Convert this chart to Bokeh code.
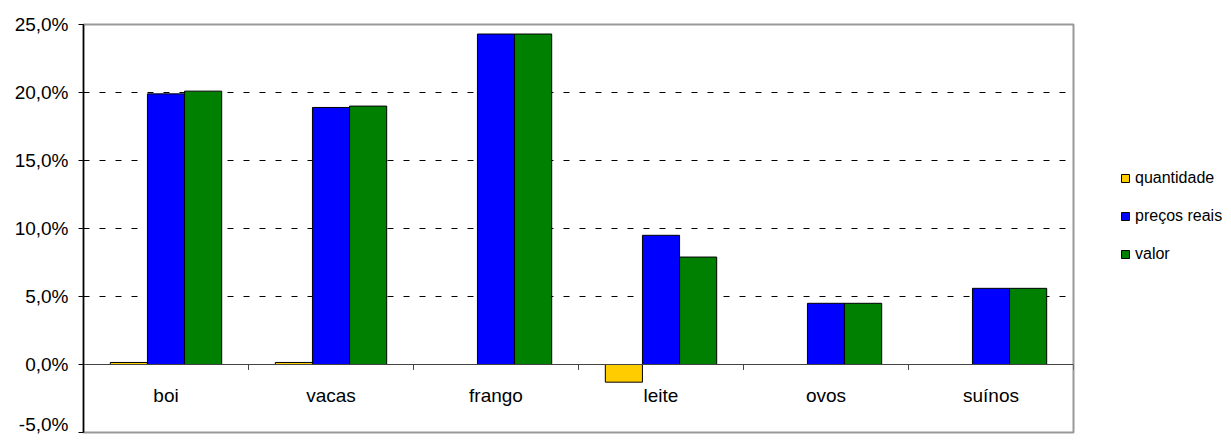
from bokeh.plotting import figure
from bokeh.models import (ColumnDataSource, Range1d, Span, Legend, LegendItem,
                          FixedTicker, CustomJSTickFormatter)
from bokeh.core.properties import value
from bokeh.embed import file_html
from bokeh.resources import INLINE

categories = ["boi", "vacas", "frango", "leite", "ovos", "suínos"]
series_names = ["quantidade", "preços reais", "valor"]
quantidade = [0.15, 0.15, 0.0, -1.3, 0.0, 0.0]
precos_reais = [19.9, 18.9, 24.3, 9.5, 4.5, 5.6]
valor = [20.1, 19.0, 24.3, 7.9, 4.5, 5.6]
y_ticks = [-5, 0, 5, 10, 15, 20, 25]
colors = ["#FFCC00", "#0000FF", "#008000"]

FONT = "Liberation Sans"
n = len(categories)
idx = list(range(n))
centers = [i + 0.5 for i in idx]
bar_w = 0.225

p = figure(frame_width=990, frame_height=408, output_backend="svg",
           toolbar_location=None, x_range=Range1d(0, n), y_range=Range1d(-5, 25),
           min_border_left=83, min_border_top=24, min_border_bottom=2,
           min_border_right=0)
p.outline_line_color = "#999999"
p.outline_line_width = 2
p.background_fill_color = "white"
p.border_fill_color = "white"

p.xaxis.visible = False
p.xgrid.visible = False
p.ygrid.ticker = FixedTicker(ticks=[5, 10, 15, 20])
p.ygrid.grid_line_color = "black"
p.ygrid.grid_line_dash = "6 10"
p.ygrid.grid_line_width = 1

ya = p.yaxis[0]
ya.ticker = FixedTicker(ticks=y_ticks)
ya.formatter = CustomJSTickFormatter(code="return tick.toFixed(1).replace('.', ',') + '%';")
ya.axis_line_color = "black"
ya.axis_line_width = 1.5
ya.major_tick_line_color = "black"
ya.major_tick_out = 5
ya.major_tick_in = 0
ya.minor_tick_line_color = None
ya.major_label_text_font = FONT
ya.major_label_text_font_size = "19px"
ya.major_label_text_color = "black"
ya.major_label_standoff = 10

renderers = []
for k, (vals, col) in enumerate(zip([quantidade, precos_reais, valor], colors)):
    xs = [c + (k - 1) * bar_w for c in centers]
    src = ColumnDataSource(dict(x=xs, top=vals, bottom=[0] * n))
    r = p.vbar(x="x", top="top", bottom="bottom", width=bar_w, source=src,
               fill_color=col, line_color="black", line_width=1)
    renderers.append(r)

p.add_layout(Span(location=0, dimension="width", line_color="#444444", line_width=1))

# tick marks at category boundaries below the zero line
bounds = list(range(1, n + 1))
p.segment(x0=bounds, x1=bounds, y0=[0] * n, y1=[-0.4] * n, line_color="#444444", line_width=1)

p.text(x=centers, y=[0] * n, text=categories, text_font=value(FONT),
       text_font_size="19px", text_align="center", text_baseline="middle",
       y_offset=31, text_color="black")

legend = Legend(items=[LegendItem(label=s, renderers=[r]) for s, r in zip(series_names, renderers)],
                location=(47, 168), border_line_color=None, background_fill_alpha=0,
                label_text_font=FONT, label_text_font_size="16px", label_text_color="black",
                glyph_width=10, glyph_height=10, label_height=20, spacing=18,
                margin=0, padding=0, label_standoff=5)
p.add_layout(legend, "right")

open("out.html", "w").write(file_html(p, INLINE))
